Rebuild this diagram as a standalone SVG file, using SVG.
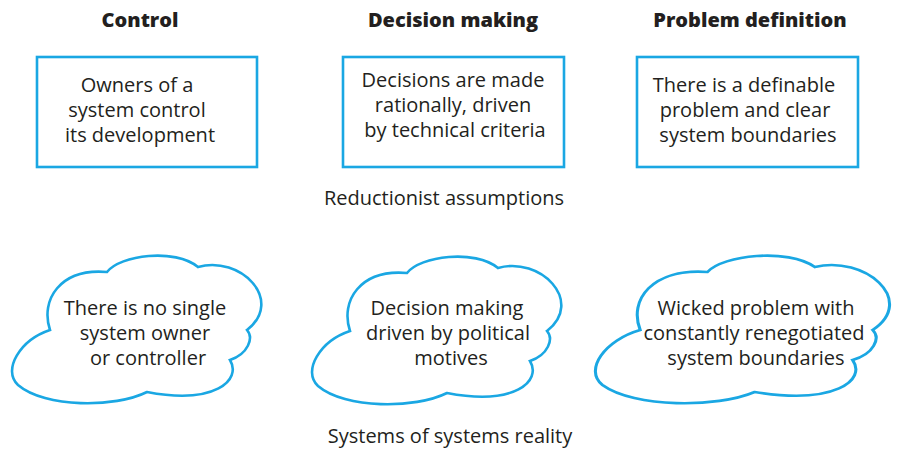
<svg xmlns="http://www.w3.org/2000/svg" width="900" height="450" viewBox="0 0 900 450">
<style>
.box{fill:#fff;stroke:#1aa7e3;stroke-width:2.6}
.cloud{fill:#fff;stroke:#1aa7e3;stroke-width:2.6;vector-effect:non-scaling-stroke}
.t{font-family:"Open Sans","Noto Sans",sans-serif;font-size:20px;fill:#231f20;text-anchor:middle}
.h{font-family:"Open Sans","Noto Sans",sans-serif;font-size:20px;font-weight:800;fill:#231f20;text-anchor:middle}
</style>
<defs>
<path id="cloudShape" d="M50,330 C40,300 60,268 107,272 C120,255 175,248 198,267 C240,255 285,300 247,330 C254,338 248,354 230,360 C242,380 215,405 147,392 C115,408 45,408 18,385 C2,370 20,340 50,330 Z"/>
</defs>
<g id="titles">
<text class="h" x="140" y="27">Control</text>
<text class="h" x="453" y="27">Decision making</text>
<text class="h" x="750" y="27">Problem definition</text>
</g>
<g id="box1">
<rect class="box" x="37" y="57" width="220" height="110"/>
<text class="t" x="137" y="92">Owners of a</text>
<text class="t" x="137" y="117">system control</text>
<text class="t" x="140" y="142">its development</text>
</g>
<g id="box2">
<rect class="box" x="343" y="57" width="221" height="110"/>
<text class="t" x="453" y="87">Decisions are made</text>
<text class="t" x="453" y="112">rationally, driven</text>
<text class="t" x="455" y="137">by technical criteria</text>
</g>
<g id="box3">
<rect class="box" x="637" y="57" width="221" height="110"/>
<text class="t" x="744" y="92">There is a definable</text>
<text class="t" x="745" y="117">problem and clear</text>
<text class="t" x="748" y="142">system boundaries</text>
</g>
<g id="label-reductionist">
<text class="t" x="444" y="205">Reductionist assumptions</text>
</g>
<g id="cloud1">
<use href="#cloudShape" class="cloud"/>
<text class="t" x="145" y="315">There is no single</text>
<text class="t" x="145" y="340">system owner</text>
<text class="t" x="148" y="365">or controller</text>
</g>
<g id="cloud2">
<use href="#cloudShape" class="cloud" transform="translate(300,1)"/>
<text class="t" x="447" y="315">Decision making</text>
<text class="t" x="448" y="340">driven by political</text>
<text class="t" x="451" y="365">motives</text>
</g>
<g id="cloud3">
<use href="#cloudShape" class="cloud" transform="translate(581.2,0) scale(1.18,1)"/>
<text class="t" x="756" y="315">Wicked problem with</text>
<text class="t" x="754" y="340">constantly renegotiated</text>
<text class="t" x="756" y="365">system boundaries</text>
</g>
<g id="label-sos">
<text class="t" x="450" y="443">Systems of systems reality</text>
</g>
<g id="connectors"/>
</svg>
